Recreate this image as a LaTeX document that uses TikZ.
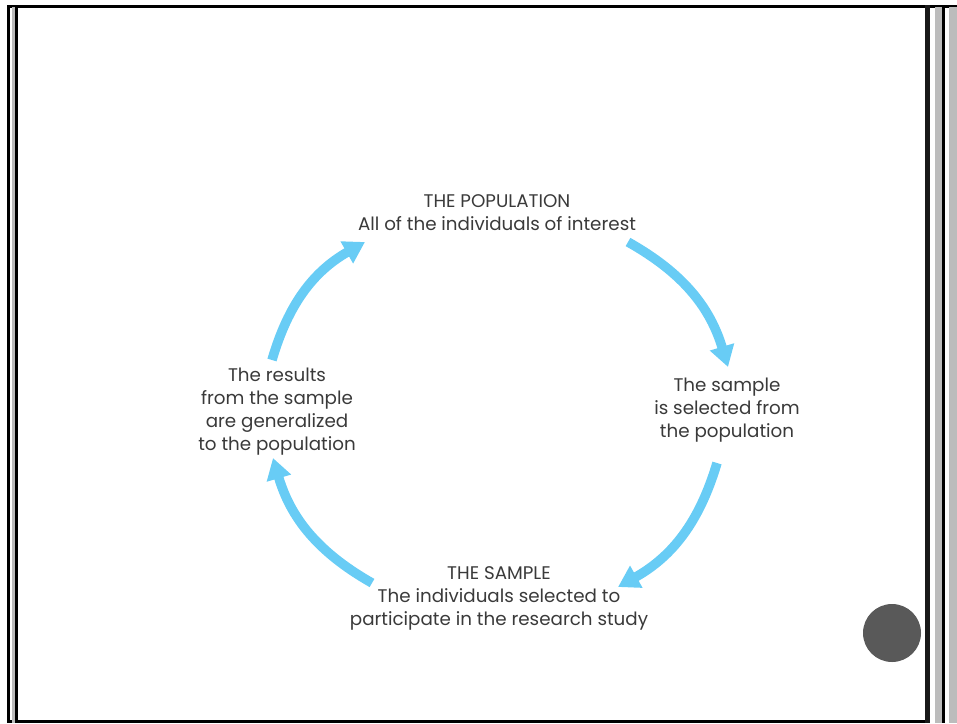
\documentclass[tikz,border=0pt]{standalone}
\usepackage{fontspec}
\setmainfont{Poppins}
\usetikzlibrary{arrows.meta}
\definecolor{cycleblue}{RGB}{104,204,245}
\definecolor{txtgrey}{RGB}{58,58,58}
\definecolor{bandgrey}{RGB}{188,188,188}
\definecolor{dotgrey}{RGB}{89,89,89}
\tikzset{
  cyclearrow/.style={draw=cycleblue,line width=9.5pt,
    -{Triangle[length=21pt,width=24pt]}},
  cycletext/.style={align=center,text=txtgrey,
    font=\fontsize{18.3}{23}\selectfont,inner sep=0pt}
}
\begin{document}
\begin{tikzpicture}[x=1pt,y=1pt]
  \useasboundingbox (0,0) rectangle (957,-723);
  % frame
  \fill[black] (7,-5) rectangle (957,-7.5);
  \fill[black] (7,-720) rectangle (925,-722.5);
  \fill[black] (7,-5) rectangle (9.5,-722.5);
  \fill[bandgrey] (12,-7) rectangle (15,-722.5);
  \fill[black] (15,-7) rectangle (17.5,-722.5);
  \fill[black!90] (925,-5) rectangle (930,-723);
  \fill[bandgrey] (935,-7) rectangle (942,-723);
  \fill[black] (942,-7) rectangle (944.5,-723);
  \fill[bandgrey] (949,-7) rectangle (957,-723);
  \fill[dotgrey] (892,-633) circle (29);
  % texts
  \node[cycletext] (pop) at (497,-213) {THE POPULATION\\All of the individuals of interest};
  \node[cycletext] (sel) at (727,-410) {The sample\\is selected from\\the population};
  \node[cycletext] (smp) at (499,-598) {THE SAMPLE\\The individuals selected to\\participate in the research study};
  \node[cycletext] (gen) at (277,-412) {The results\\from the sample\\are generalized\\to the population};
  % arrow ends
  \coordinate (popR) at (628,-242);
  \coordinate (selT) at (728,-367);
  \coordinate (selB) at (717,-463);
  \coordinate (smpR) at (618,-587);
  \coordinate (smpL) at (372,-583);
  \coordinate (genB) at (273,-458);
  \coordinate (genT) at (272,-360);
  \coordinate (popL) at (365,-242);
  \draw[cyclearrow] (popR) to[bend left=22] (selT);
  \draw[cyclearrow] (selB) to[bend left=22] (smpR);
  \draw[cyclearrow] (smpL) to[bend left=22] (genB);
  \draw[cyclearrow] (genT) to[bend left=22] (popL);
\end{tikzpicture}
\end{document}
